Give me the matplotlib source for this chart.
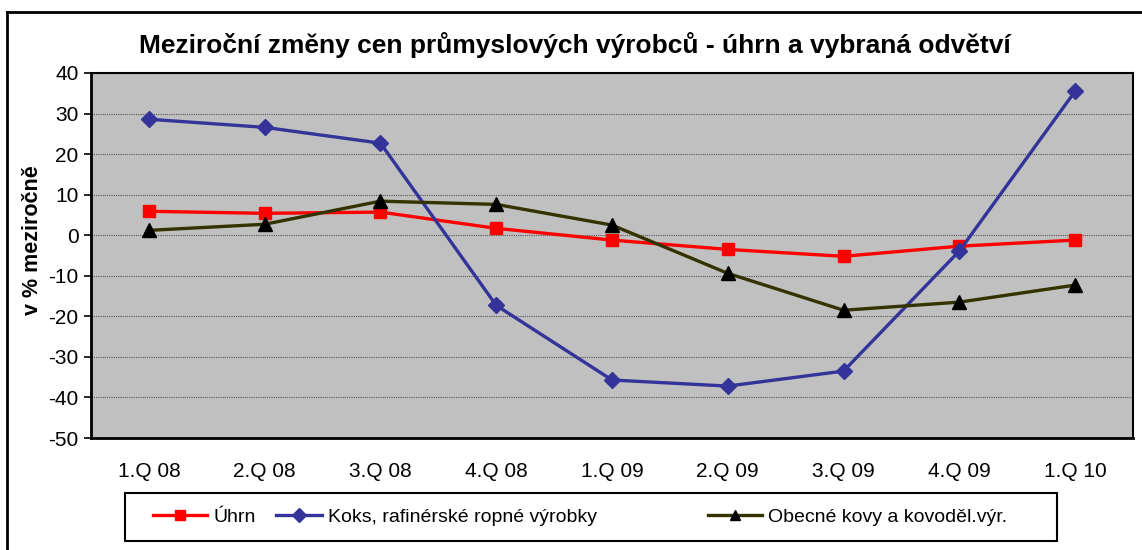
import matplotlib.pyplot as plt
from matplotlib.lines import Line2D
from matplotlib.patches import Rectangle

plt.rcParams['font.family'] = ['Liberation Sans', 'DejaVu Sans']
plt.rcParams['axes.unicode_minus'] = False

quarters = ["1.Q 08", "2.Q 08", "3.Q 08", "4.Q 08", "1.Q 09",
            "2.Q 09", "3.Q 09", "4.Q 09", "1.Q 10"]
uhrn = [5.9, 5.4, 5.7, 1.7, -1.2, -3.5, -5.2, -2.7, -1.2]
koks = [28.6, 26.6, 22.7, -17.3, -35.7, -37.2, -33.5, -3.9, 35.5]
kovy = [1.2, 2.7, 8.4, 7.6, 2.5, -9.4, -18.5, -16.5, -12.3]
y_ticks = list(range(-50, 41, 10))

W, H = 1142, 550
fig = plt.figure(figsize=(W / 100, H / 100), dpi=100)
ax = fig.add_axes([91 / W, 1 - 438 / H, 1042 / W, 365 / H])
ax.set_facecolor('#c0c0c0')

x = range(len(quarters))
l1, = ax.plot(x, uhrn, color='#ff0000', lw=2.4, marker='s', ms=8.5, label='Úhrn')
l2, = ax.plot(x, koks, color='#333399', lw=2.4, marker='D', ms=8, label='Koks, rafinérské ropné výrobky')
l3, = ax.plot(x, kovy, color='#333300', lw=2.4, marker='^', ms=10, mfc='black', mec='black',
              label='Obecné kovy a kovoděl.výr.')

ax.set_xlim(-0.5, len(quarters) - 0.5)
ax.set_ylim(-50, 40)
ax.set_yticks(y_ticks)
ax.set_xticks(list(x))
ax.set_xticklabels(quarters)
ax.tick_params(axis='y', direction='out', length=5, width=1.2, labelsize=15, pad=4)
ax.tick_params(axis='x', length=0, labelsize=15, pad=17)
ax.yaxis.grid(True, color='#555555', linestyle=(0, (1, 1)), lw=0.8)
ax.set_axisbelow(True)
for s in ax.spines.values():
    s.set_color('black')
    s.set_linewidth(1.5)
ax.spines['left'].set_linewidth(2)
ax.spines['bottom'].set_linewidth(2)

ax.set_ylabel('v % meziročně', fontsize=15.5, fontweight='bold', va='center')
ax.yaxis.set_label_coords((33 - 91) / 1042, (438 - 240) / 365)
fig.text(0.503, 1 - 45 / H, 'Meziroční změny cen průmyslových výrobců - úhrn a vybraná odvětví',
         ha='center', va='center', fontsize=19, fontweight='bold')

# legend: frame + three entries placed like the original
fig.add_artist(Rectangle((125 / W, 1 - 541 / H), 932 / W, 48 / H, transform=fig.transFigure,
                         fill=False, edgecolor='black', lw=1.5))
for line, left, hl in zip([l1, l2, l3], [153, 276, 708], [2.78, 2.37, 2.78]):
    lg = fig.legend(handles=[line], loc='center left', bbox_to_anchor=(left / W, 1 - 517 / H),
                    frameon=False, fontsize=14, handlelength=hl, handletextpad=0.31,
                    borderpad=0, borderaxespad=0)
    for h in lg.legend_handles:
        h.set_markersize(7.5)

# outer chart border (left and top visible)
fig.add_artist(Line2D([7 / W, 7 / W], [0, 1 - 12 / H], transform=fig.transFigure,
                      color='black', lw=2))
fig.add_artist(Line2D([7 / W, 1], [1 - 12 / H, 1 - 12 / H], transform=fig.transFigure,
                      color='black', lw=2))

fig.savefig('out.png', dpi=100)
